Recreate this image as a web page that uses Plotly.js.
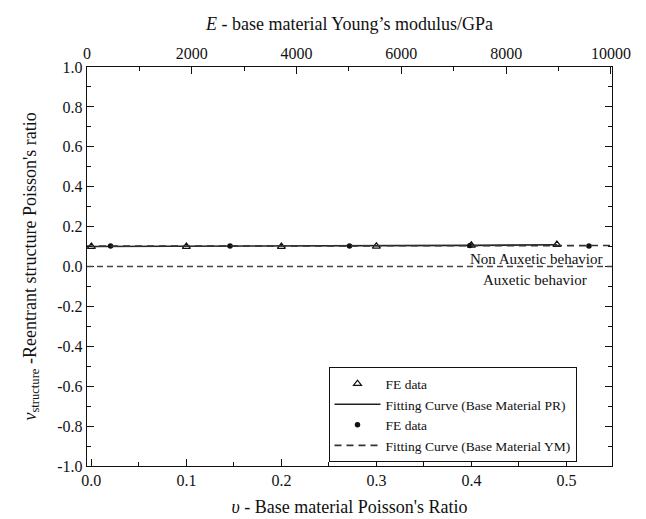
<!DOCTYPE html>
<html>
<head>
<meta charset="utf-8">
<script src="https://cdn.plot.ly/plotly-3.0.1.min.js"></script>
<style>html,body{margin:0;padding:0;background:#fff}#chart{width:646px;height:519px}</style>
</head>
<body>
<div id="chart"></div>
<script>
// FE data, varying base-material Poisson's ratio (bottom axis)
var prX = [0.0, 0.1, 0.2, 0.3, 0.4, 0.49];
var prY = [0.100, 0.100, 0.100, 0.101, 0.106, 0.110];
// Fitting curve (base material PR)
var prFitX = [0.0, 0.1, 0.2, 0.3, 0.4, 0.49];
var prFitY = [0.100, 0.101, 0.102, 0.104, 0.106, 0.109];
// FE data, varying base-material Young's modulus (top axis, GPa)
var ymX = [450, 2730, 5010, 7310, 9580];
var ymY = [0.103, 0.103, 0.103, 0.105, 0.103];
// Fitting curve (base material YM)
var ymFitX = [0, 10000];
var ymFitY = [0.102, 0.105];
// Boundary between auxetic and non-auxetic behaviour
var boundaryY = 0;
// Tick labels
var bottomTickVals = [0, 0.1, 0.2, 0.3, 0.4, 0.5];
var bottomTickText = ['0.0', '0.1', '0.2', '0.3', '0.4', '0.5'];
var topTickVals = [0, 2000, 4000, 6000, 8000, 10000];
var topTickText = ['0', '2000', '4000', '6000', '8000', '10000'];
var leftTickVals = [-1, -0.8, -0.6, -0.4, -0.2, 0, 0.2, 0.4, 0.6, 0.8, 1];
var leftTickText = ['-1.0', '-0.8', '-0.6', '-0.4', '-0.2', '0.0', '0.2', '0.4', '0.6', '0.8', '1.0'];

var serif = 'Liberation Serif';

var traces = [
  {x: prX, y: prY, xaxis: 'x', yaxis: 'y', mode: 'markers', name: 'FE data',
   marker: {symbol: 'triangle-up-open', size: 7, color: '#111', line: {width: 1.2, color: '#111'}}},
  {x: prFitX, y: prFitY, xaxis: 'x', yaxis: 'y', mode: 'lines', name: 'Fitting Curve (Base Material PR)',
   line: {color: '#222', width: 1.6}},
  {x: ymX, y: ymY, xaxis: 'x2', yaxis: 'y', mode: 'markers', name: 'FE data',
   marker: {symbol: 'circle', size: 5.5, color: '#111'}},
  {x: ymFitX, y: ymFitY, xaxis: 'x2', yaxis: 'y', mode: 'lines', name: 'Fitting Curve (Base Material YM)',
   line: {color: '#333', width: 1.6, dash: '7px,5px'}}
];

var tickFont = {family: serif, size: 16, color: '#111'};

var layout = {
  width: 646, height: 519,
  margin: {l: 87, r: 34, t: 67, b: 53},
  paper_bgcolor: '#fff', plot_bgcolor: '#fff',
  font: {family: serif, color: '#111'},
  showlegend: true,
  legend: {x: 0.46, y: 0.247, xanchor: 'left', yanchor: 'top',
    bordercolor: '#111', borderwidth: 1, bgcolor: '#fff',
    font: {family: serif, size: 13.5, color: '#111'}, itemwidth: 46, tracegroupgap: 0},
  xaxis: {
    range: [-0.0046, 0.548], showgrid: false, zeroline: false,
    showline: true, linecolor: '#111', linewidth: 1.2,
    ticks: 'inside', ticklen: 7, tickcolor: '#111',
    tickmode: 'array', tickvals: bottomTickVals, ticktext: bottomTickText, tickfont: tickFont,
    minor: {ticks: 'inside', ticklen: 4, dtick: 0.05, tick0: 0, tickcolor: '#111', showgrid: false},
    title: {text: '<i>υ</i> - Base material Poisson\'s Ratio', font: {family: serif, size: 18, color: '#111'}, standoff: 12}
  },
  xaxis2: {
    overlaying: 'x', side: 'top', anchor: 'y',
    range: [0, 10020], showgrid: false, zeroline: false,
    showline: true, linecolor: '#111', linewidth: 1.2,
    ticks: 'inside', ticklen: 7, tickcolor: '#111',
    tickmode: 'array', tickvals: topTickVals, ticktext: topTickText, tickfont: tickFont,
    minor: {ticks: 'inside', ticklen: 4, dtick: 1000, tick0: 0, tickcolor: '#111', showgrid: false},
    title: {text: '<i>E</i> - base material Young’s modulus/GPa', font: {family: serif, size: 18, color: '#111'}, standoff: 10}
  },
  yaxis: {
    range: [-1, 1], showgrid: false, zeroline: false,
    showline: true, linecolor: '#111', linewidth: 1.2, mirror: 'ticks',
    ticks: 'inside', ticklen: 7, tickcolor: '#111',
    tickmode: 'array', tickvals: leftTickVals, ticktext: leftTickText, tickfont: tickFont,
    minor: {ticks: 'inside', ticklen: 4, dtick: 0.1, tick0: 0, tickcolor: '#111', showgrid: false},
    title: {text: '<i>ν</i><sub>structure</sub> -Reentrant structure Poisson\'s ratio', font: {family: serif, size: 18, color: '#111'}, standoff: 16}
  },
  shapes: [
    {type: 'line', xref: 'paper', yref: 'y', x0: 0, x1: 1, y0: boundaryY, y1: boundaryY,
     line: {color: '#444', width: 1.3, dash: '6px,4px'}}
  ],
  annotations: [
    {text: 'Non Auxetic behavior', xref: 'x', yref: 'y', x: 0.540, y: 0.036, xanchor: 'right', yanchor: 'middle',
     showarrow: false, font: {family: serif, size: 15, color: '#111'}},
    {text: 'Auxetic behavior', xref: 'x', yref: 'y', x: 0.467, y: -0.07, xanchor: 'center', yanchor: 'middle',
     showarrow: false, font: {family: serif, size: 15, color: '#111'}}
  ]
};

Plotly.newPlot('chart', traces, layout, {displayModeBar: false, staticPlot: true});
</script>
</body>
</html>
